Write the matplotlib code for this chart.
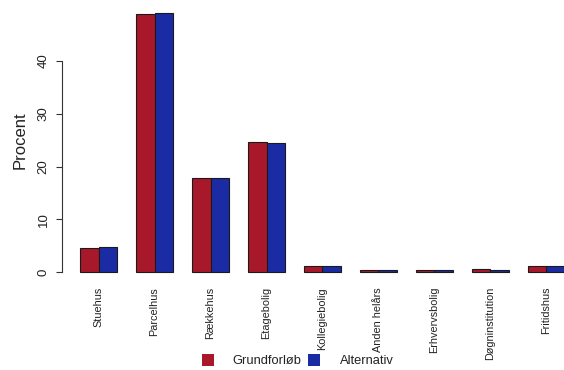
import matplotlib
matplotlib.use("Agg")
import matplotlib.pyplot as plt
from matplotlib.patches import Rectangle
import numpy as np

categories = ["Stuehus", "Parcelhus", "Rækkehus", "Etagebolig", "Kollegiebolig",
              "Anden helårs", "Erhvervsbolig", "Døgninstitution", "Fritidshus"]
grundforloeb = [4.5, 48.9, 17.9, 24.7, 1.2, 0.4, 0.4, 0.5, 1.1]
alternativ = [4.7, 49.1, 17.9, 24.4, 1.1, 0.4, 0.3, 0.4, 1.2]
series_names = ["Grundforløb", "Alternativ"]
yticks = [0, 10, 20, 30, 40]

RED = "#A8182B"
BLUE = "#1A2BA3"

plt.rcParams['font.family'] = ['Liberation Sans', 'DejaVu Sans']

W, H = 564, 370
fig = plt.figure(figsize=(W / 100, H / 100), dpi=100)

# axes in pixel coordinates
left_px, right_px, top_px, bottom_px = 62, 564, 0, 280
ax = fig.add_axes([left_px / W, 1 - bottom_px / H, (right_px - left_px) / W, (bottom_px - top_px) / H])

unit = 18.65
x0_unit = 1 + (left_px - 80) / unit
x1_unit = 1 + (right_px - 80) / unit
ypx = 5.275
ax.set_xlim(x0_unit, x1_unit)
ax.set_ylim(-(bottom_px - 272) / ypx, (272 - top_px) / ypx)

n = len(categories)
pos = np.arange(n) * 3
ax.bar(pos + 1, grundforloeb, width=1, align='edge', color=RED, edgecolor='#1a1a1a', linewidth=0.8)
ax.bar(pos + 2, alternativ, width=1, align='edge', color=BLUE, edgecolor='#1a1a1a', linewidth=0.8)

for s in ['top', 'right', 'bottom']:
    ax.spines[s].set_visible(False)
ax.spines['left'].set_bounds(0, 40)
ax.spines['left'].set_color('#333333')
ax.set_yticks(yticks)
ax.set_yticklabels([str(v) for v in yticks], rotation=90, va='center', fontsize=9.5, color='#222222')
ax.tick_params(axis='y', length=4, width=0.8, color='#333333', pad=5)
ax.set_ylabel("Procent", fontsize=12, labelpad=7, color='#222222')

ax.set_xticks(pos + 2)
ax.set_xticklabels(categories, rotation=90, fontsize=7.8, va='top', ha='center', color='#222222')
ax.tick_params(axis='x', length=0, pad=5)

# legend drawn manually (bottom)
def frect(x, y, w, h, c):
    fig.patches.append(Rectangle((x / W, 1 - (y + h) / H), w / W, h / H, transform=fig.transFigure,
                                 facecolor=c, edgecolor='none'))

frect(202, 354, 12, 12, RED)
fig.text(232 / W, 1 - 361 / H, series_names[0], fontsize=9.3, va='center', ha='left', color='#222222')
frect(308, 354, 12, 12, BLUE)
fig.text(340 / W, 1 - 361 / H, series_names[1], fontsize=9.3, va='center', ha='left', color='#222222')

fig.savefig("out.png", dpi=100, facecolor='white')
